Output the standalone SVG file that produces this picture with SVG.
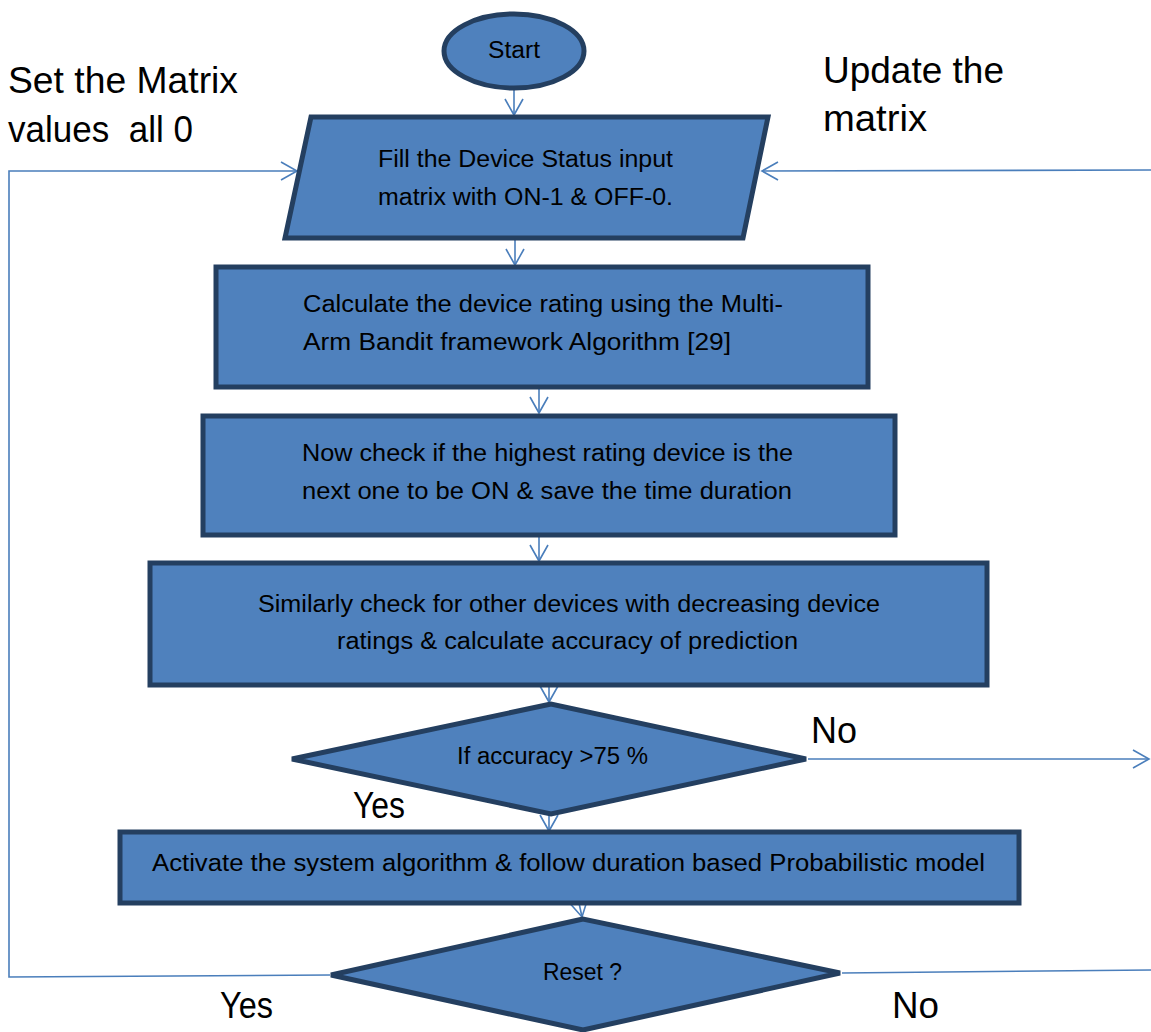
<svg xmlns="http://www.w3.org/2000/svg" width="1151" height="1032" viewBox="0 0 1151 1032">
<defs>
<style>
.shape{fill:#4F81BD;stroke:#243F60;stroke-width:5;stroke-linejoin:miter}
.t{font-family:"Liberation Sans",Arial,sans-serif;font-size:23px;fill:#000}
.big{font-family:"Liberation Sans",Arial,sans-serif;font-size:36px;fill:#000}
.c{fill:none;stroke:#4A7EBB;stroke-width:1.6}
</style>
<marker id="ah" viewBox="0 0 20 20" refX="18" refY="10" markerWidth="20" markerHeight="20" markerUnits="userSpaceOnUse" orient="auto">
<path d="M2,1 L18,10 L2,19" fill="none" stroke="#4A7EBB" stroke-width="1.6"/>
</marker>
</defs>
<rect width="1151" height="1032" fill="#fff"/>

<g id="connectors">
<line class="c" x1="514" y1="89" x2="514" y2="115" marker-end="url(#ah)"/>
<line class="c" x1="515" y1="238" x2="515" y2="265" marker-end="url(#ah)"/>
<line class="c" x1="539" y1="387" x2="539" y2="413" marker-end="url(#ah)"/>
<line class="c" x1="539" y1="535" x2="539" y2="561" marker-end="url(#ah)"/>
<line class="c" x1="549" y1="685" x2="549" y2="702" marker-end="url(#ah)"/>
<line class="c" x1="549" y1="815" x2="549" y2="831" marker-end="url(#ah)"/>
<line class="c" x1="579" y1="903" x2="582" y2="917" marker-end="url(#ah)"/>
<line class="c" x1="808" y1="759" x2="1149" y2="759" marker-end="url(#ah)"/>
<polyline class="c" points="330,975 9,977 9,171 297,171" marker-end="url(#ah)"/>
<line class="c" x1="1151" y1="170" x2="762" y2="171" marker-end="url(#ah)"/>
<line class="c" x1="842" y1="973" x2="1151" y2="970"/>
</g>

<g id="start">
<ellipse class="shape" cx="514" cy="51" rx="70" ry="37"/>
<text class="t" x="488" y="58" textLength="52" lengthAdjust="spacingAndGlyphs">Start</text>
</g>

<g id="input">
<polygon class="shape" points="311,117 768,117 743,238 285,238"/>
<text class="t" x="378" y="167" textLength="295" lengthAdjust="spacingAndGlyphs">Fill the Device Status input</text>
<text class="t" x="378" y="205" textLength="295" lengthAdjust="spacingAndGlyphs">matrix with ON-1 &amp; OFF-0.</text>
</g>

<g id="calc">
<rect class="shape" x="216" y="267" width="652" height="120"/>
<text class="t" x="303" y="312" textLength="480" lengthAdjust="spacingAndGlyphs">Calculate the device rating using the Multi-</text>
<text class="t" x="303" y="350" textLength="428" lengthAdjust="spacingAndGlyphs">Arm Bandit framework Algorithm [29]</text>
</g>

<g id="check">
<rect class="shape" x="203" y="416" width="692" height="119"/>
<text class="t" x="302" y="461" textLength="491" lengthAdjust="spacingAndGlyphs">Now check if the highest rating device is the</text>
<text class="t" x="302" y="499" textLength="490" lengthAdjust="spacingAndGlyphs">next one to be ON &amp; save the time duration</text>
</g>

<g id="similar">
<rect class="shape" x="150" y="563" width="837" height="122"/>
<text class="t" x="258" y="612" textLength="622" lengthAdjust="spacingAndGlyphs">Similarly check for other devices with decreasing device</text>
<text class="t" x="337" y="649" textLength="461" lengthAdjust="spacingAndGlyphs">ratings &amp; calculate accuracy of prediction</text>
</g>

<g id="accuracy">
<polygon class="shape" points="551,704 292,759 551,814 806,759"/>
<text class="t" x="457" y="764" textLength="191" lengthAdjust="spacingAndGlyphs">If accuracy &gt;75 %</text>
</g>

<g id="activate">
<rect class="shape" x="120" y="832" width="899" height="71"/>
<text class="t" x="152" y="871" textLength="833" lengthAdjust="spacingAndGlyphs">Activate the system algorithm &amp; follow duration based Probabilistic model</text>
</g>

<g id="reset">
<polygon class="shape" points="583,919 331,975 583,1030 840,973"/>
<text class="t" x="543" y="980" textLength="79" lengthAdjust="spacingAndGlyphs">Reset ?</text>
</g>

<g id="labels">
<text class="big" x="8" y="93" textLength="230" lengthAdjust="spacingAndGlyphs">Set the Matrix</text>
<text class="big" x="8" y="142" textLength="185" lengthAdjust="spacingAndGlyphs" xml:space="preserve">values  all 0</text>
<text class="big" x="823" y="83" textLength="181" lengthAdjust="spacingAndGlyphs">Update the</text>
<text class="big" x="823" y="131" textLength="104" lengthAdjust="spacingAndGlyphs">matrix</text>
<text class="big" x="811" y="743" textLength="46" lengthAdjust="spacingAndGlyphs">No</text>
<text class="big" x="353" y="818" textLength="52" lengthAdjust="spacingAndGlyphs">Yes</text>
<text class="big" x="220" y="1018" textLength="53" lengthAdjust="spacingAndGlyphs">Yes</text>
<text class="big" x="892" y="1018" textLength="47" lengthAdjust="spacingAndGlyphs">No</text>
</g>
</svg>
